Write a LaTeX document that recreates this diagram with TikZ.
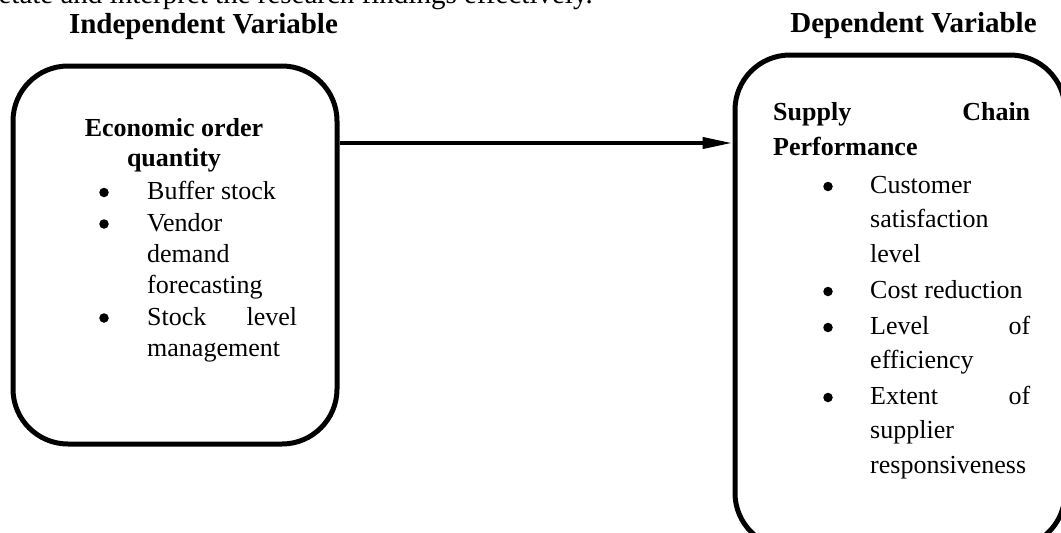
\documentclass[tikz,border=0pt]{standalone}
\usepackage{fontspec}
\setmainfont{Liberation Serif}
\usetikzlibrary{arrows.meta}

\begin{document}
\begin{tikzpicture}[x=1pt,y=-1pt,
  hdr/.style={font=\fontsize{29}{34}\selectfont\bfseries, inner sep=0pt, anchor=base},
  toptxt/.style={font=\fontsize{29}{34}\selectfont, inner sep=0pt, anchor=base east},
  txt/.style={font=\fontsize{26}{31}\selectfont, inner sep=0pt, anchor=base west},
  btxt/.style={font=\fontsize{26}{31}\selectfont\bfseries, inner sep=0pt, anchor=base west},
  bhead/.style={font=\fontsize{26}{31}\selectfont\bfseries, inner sep=0pt, anchor=base},
  bul/.style={circle, fill, inner sep=0pt, minimum size=9.5pt},
  varbox/.style={draw, line width=5pt, rounded corners=55pt, inner sep=0pt},
  arr/.style={line width=4pt, -{Triangle[length=30pt,width=11pt]}},
]
\clip (0,0) rectangle (1061,533);

% clipped line of running text at the top
\node[toptxt] (top) at (593,3) {etate and interpret the research findings effectively.};

% headers
\node[hdr] (hIV) at (203.5,33) {Independent Variable};
\node[hdr] (hDV) at (913.5,32) {Dependent Variable};

% boxes
\node[varbox, minimum width=324pt, minimum height=378pt] (iv) at (175,255) {};
\node[varbox, minimum width=330pt, minimum height=493pt] (dv) at (900,301.5) {};

% arrow
\coordinate (ay) at (0,143);
\draw[arr] (iv.east |- ay) -- (dv.west |- ay);

% left box text
\node[bhead] (l1) at (174,136) {Economic order};
\node[bhead] (l2) at (174,166) {quantity};
\node[bul] (lb1) at (104,192.5) {};
\node[txt] (l3) at (147,199) {Buffer stock};
\node[bul] (lb2) at (104,224) {};
\node[txt] (l4) at (147,231) {Vendor};
\node[txt] (l5) at (147,262) {demand};
\node[txt] (l6) at (147,293) {forecasting};
\node[bul] (lb3) at (104,318) {};
\node[txt] (l7) at (147,325) {\makebox[150pt][s]{Stock\hfill level}};
\node[txt] (l8) at (147,356) {management};

% right box text
\node[btxt] (r1) at (773,120) {\makebox[257pt][s]{Supply\hfill Chain}};
\node[btxt] (r2) at (773,155) {Performance};
\node[bul] (rb1) at (828,186.5) {};
\node[txt] (r3) at (870,193) {Customer};
\node[txt] (r4) at (870,227) {satisfaction};
\node[txt] (r5) at (870,262) {level};
\node[bul] (rb2) at (828,291.5) {};
\node[txt] (r6) at (870,298) {Cost reduction};
\node[bul] (rb3) at (828,327.5) {};
\node[txt] (r7) at (870,334) {\makebox[160pt][s]{Level\hfill of}};
\node[txt] (r8) at (870,368) {efficiency};
\node[bul] (rb4) at (828,397.5) {};
\node[txt] (r9) at (870,404) {\makebox[160pt][s]{Extent\hfill of}};
\node[txt] (r10) at (870,438) {supplier};
\node[txt] (r11) at (870,473) {responsiveness};
\end{tikzpicture}
\end{document}
